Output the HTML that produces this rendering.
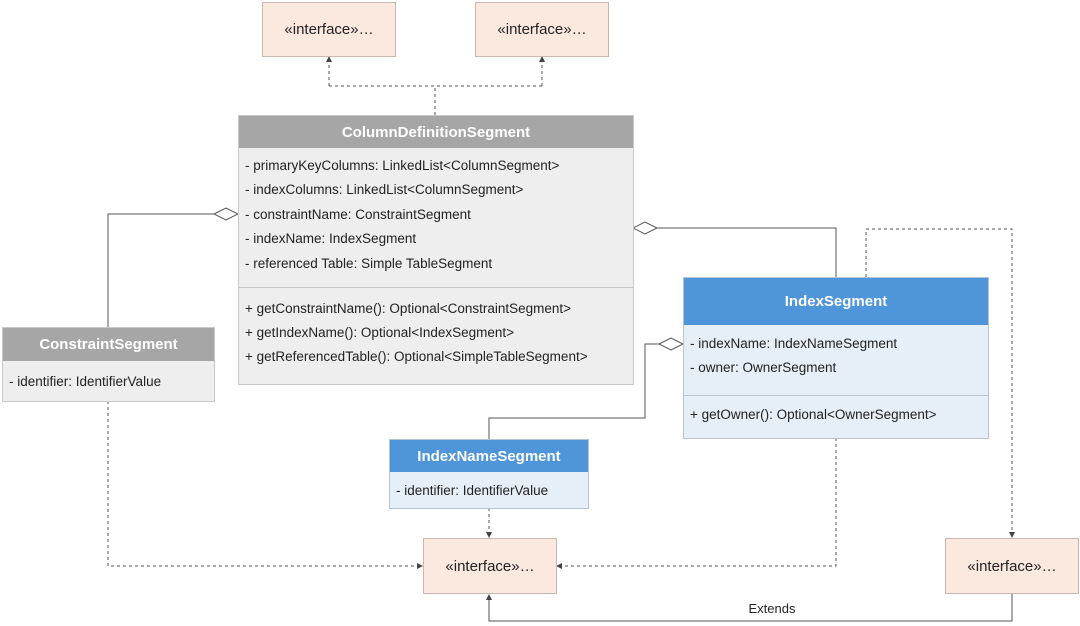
<!DOCTYPE html>
<html><head><meta charset="utf-8"><style>
body{margin:0;width:1080px;height:626px;background:#fff;position:relative;overflow:hidden;font-family:"Liberation Sans",sans-serif;}
.b{position:absolute;box-sizing:border-box;}
.iface{background:#fbe9df;border:1px solid #c9b8ae;display:flex;align-items:center;justify-content:center;font-size:15px;color:#222;}
.hdr{position:absolute;left:0;right:0;top:0;color:#fff;font-weight:bold;font-size:15px;display:flex;align-items:center;justify-content:center;}
.t{position:absolute;font-size:13.5px;color:#222;white-space:nowrap;}
svg{position:absolute;left:0;top:0;}
</style></head><body>
<svg width="1080" height="626">
<defs>
<marker id="a" markerWidth="6" markerHeight="6" refX="5" refY="3" orient="auto"><path d="M0,0 L6,3 L0,6 z" fill="#444"/></marker>
</defs>
<g fill="none" stroke="#555" stroke-width="1">
<g stroke-dasharray="3,3">
<path d="M435,115 V86 M329,86 H542 M329,86 V57" marker-end="url(#a)"/>
<path d="M542,86 V57" marker-end="url(#a)"/>
<path d="M108,401 V566 H422" marker-end="url(#a)"/>
<path d="M836,438 V566 H557" marker-end="url(#a)"/>
<path d="M489,508 V537" marker-end="url(#a)"/>
<path d="M866,277 V229 H1012 V537" marker-end="url(#a)"/>
</g>
<path d="M108,327 V214 H214"/>
<path d="M214,214 L226,208 L238,214 L226,220 Z" fill="#fff"/>
<path d="M836,277 V228 H657"/>
<path d="M633,228 L645,222 L657,228 L645,234 Z" fill="#fff"/>
<path d="M489,439 V418 H645 V344 H659"/>
<path d="M659,344 L671,338 L683,344 L671,350 Z" fill="#fff"/>
<path d="M1012,594 V621 H489 V595" marker-end="url(#a)"/>
</g>
<text x="772" y="613" font-size="13" font-family="Liberation Sans,sans-serif" fill="#222" text-anchor="middle">Extends</text>
</svg>

<div class="b iface" style="left:262px;top:2px;width:134px;height:55px;">«interface»…</div>
<div class="b iface" style="left:475px;top:2px;width:134px;height:55px;">«interface»…</div>
<div class="b iface" style="left:423px;top:538px;width:134px;height:56px;">«interface»…</div>
<div class="b iface" style="left:945px;top:538px;width:134px;height:56px;">«interface»…</div>

<div class="b" style="left:238px;top:115px;width:396px;height:270px;background:#eeeeee;border:1px solid #c8c8c8;">
<div class="hdr" style="height:32px;background:#a6a6a6;">ColumnDefinitionSegment</div>
<div class="t" style="left:6px;top:42px;">- primaryKeyColumns: LinkedList&lt;ColumnSegment&gt;</div>
<div class="t" style="left:6px;top:66px;">- indexColumns: LinkedList&lt;ColumnSegment&gt;</div>
<div class="t" style="left:6px;top:91px;">- constraintName: ConstraintSegment</div>
<div class="t" style="left:6px;top:115px;">- indexName: IndexSegment</div>
<div class="t" style="left:6px;top:140px;">- referenced Table: Simple TableSegment</div>
<div style="position:absolute;left:0;right:0;top:171px;border-top:1px solid #c8c8c8;"></div>
<div class="t" style="left:6px;top:185px;">+ getConstraintName(): Optional&lt;ConstraintSegment&gt;</div>
<div class="t" style="left:6px;top:209px;">+ getIndexName(): Optional&lt;IndexSegment&gt;</div>
<div class="t" style="left:6px;top:233px;">+ getReferencedTable(): Optional&lt;SimpleTableSegment&gt;</div>
</div>

<div class="b" style="left:2px;top:327px;width:213px;height:75px;background:#eeeeee;border:1px solid #c8c8c8;">
<div class="hdr" style="height:33px;background:#a6a6a6;">ConstraintSegment</div>
<div class="t" style="left:6px;top:46px;">- identifier: IdentifierValue</div>
</div>

<div class="b" style="left:683px;top:277px;width:306px;height:162px;background:#e6eef8;border:1px solid #b8c4d2;">
<div class="hdr" style="height:47px;background:#4f95da;">IndexSegment</div>
<div class="t" style="left:6px;top:58px;">- indexName: IndexNameSegment</div>
<div class="t" style="left:6px;top:82px;">- owner: OwnerSegment</div>
<div style="position:absolute;left:0;right:0;top:117px;border-top:1px solid #b8c4d2;"></div>
<div class="t" style="left:6px;top:129px;">+ getOwner(): Optional&lt;OwnerSegment&gt;</div>
</div>

<div class="b" style="left:389px;top:439px;width:200px;height:70px;background:#e6eef8;border:1px solid #b8c4d2;">
<div class="hdr" style="height:32px;background:#4f95da;">IndexNameSegment</div>
<div class="t" style="left:6px;top:43px;">- identifier: IdentifierValue</div>
</div>
</body></html>
